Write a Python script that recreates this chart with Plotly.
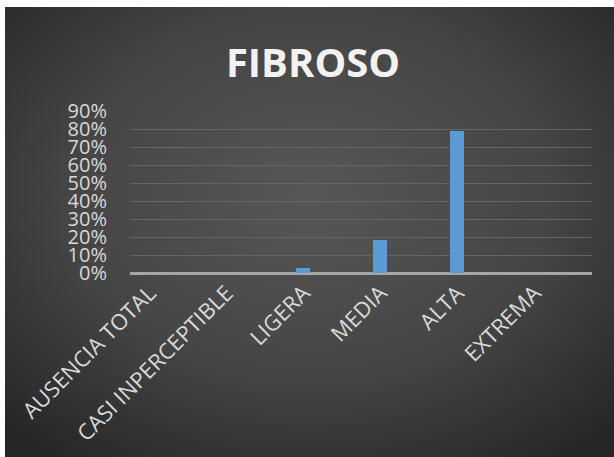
import base64
import plotly.graph_objects as go

# Data
categories = ["AUSENCIA TOTAL", "CASI INPERCEPTIBLE", "LIGERA", "MEDIA", "ALTA", "EXTREMA"]
shares = [0.0, 0.0, 1 / 33, 6 / 33, 26 / 33, 0.0]
y_ticks = [0.0, 0.1, 0.2, 0.3, 0.4, 0.5, 0.6, 0.7, 0.8, 0.9]

W, H = 614, 457
L, R, T, B = 130, 22, 111, 184
pw, ph = W - L - R, H - T - B

# Dark panel with a soft radial shading
svg = (
    "<svg xmlns='http://www.w3.org/2000/svg' width='609' height='450'>"
    "<defs><radialGradient id='g' cx='50%' cy='42%' r='72%'>"
    "<stop offset='0' stop-color='#575757'/>"
    "<stop offset='0.55' stop-color='#454545'/>"
    "<stop offset='1' stop-color='#262626'/>"
    "</radialGradient></defs>"
    "<rect width='609' height='450' fill='url(#g)'/></svg>"
)
bg_uri = "data:image/svg+xml;base64," + base64.b64encode(svg.encode()).decode()

fig = go.Figure()
fig.add_trace(
    go.Bar(
        x=categories,
        y=shares,
        width=0.19,
        offset=-0.35,
        marker=dict(color="#5b9bd5", line=dict(width=0)),
        hoverinfo="x+y",
    )
)

fig.update_layout(
    width=W,
    height=H,
    margin=dict(l=L, r=R, t=T, b=B, autoexpand=False),
    paper_bgcolor="white",
    plot_bgcolor="rgba(0,0,0,0)",
    showlegend=False,
    title=dict(
        text="<b>FIBROSO</b>",
        x=313 / W,
        xanchor="center",
        xref="container",
        y=1 - 63 / H,
        yanchor="middle",
        yref="container",
        font=dict(family="Open Sans", size=40, color="#f2f2f2"),
    ),
    images=[
        dict(
            source=bg_uri,
            xref="paper",
            yref="paper",
            x=(5 - L) / pw,
            y=1 + (T - 7) / ph,
            sizex=609 / pw,
            sizey=450 / ph,
            xanchor="left",
            yanchor="top",
            sizing="stretch",
            layer="below",
        )
    ],
    xaxis=dict(
        type="category",
        automargin=False,
        tickangle=-45,
        tickfont=dict(family="Open Sans", size=22, color="#d9d9d9"),
        showgrid=False,
        showline=False,
        ticks="",
        ticklabelshift=-19,
        ticklabelstandoff=2,
    ),
    yaxis=dict(
        automargin=False,
        range=[0, 0.9],
        tickvals=y_ticks,
        tickformat=".0%",
        tickfont=dict(family="Open Sans", size=20, color="#d9d9d9"),
        showgrid=True,
        gridcolor="#646464",
        gridwidth=1,
        zeroline=True,
        zerolinecolor="#a6a6a6",
        zerolinewidth=3,
        showline=False,
        ticks="",
        ticklabelstandoff=22,
    ),
    bargap=0,
)

fig.write_html("out.html")
